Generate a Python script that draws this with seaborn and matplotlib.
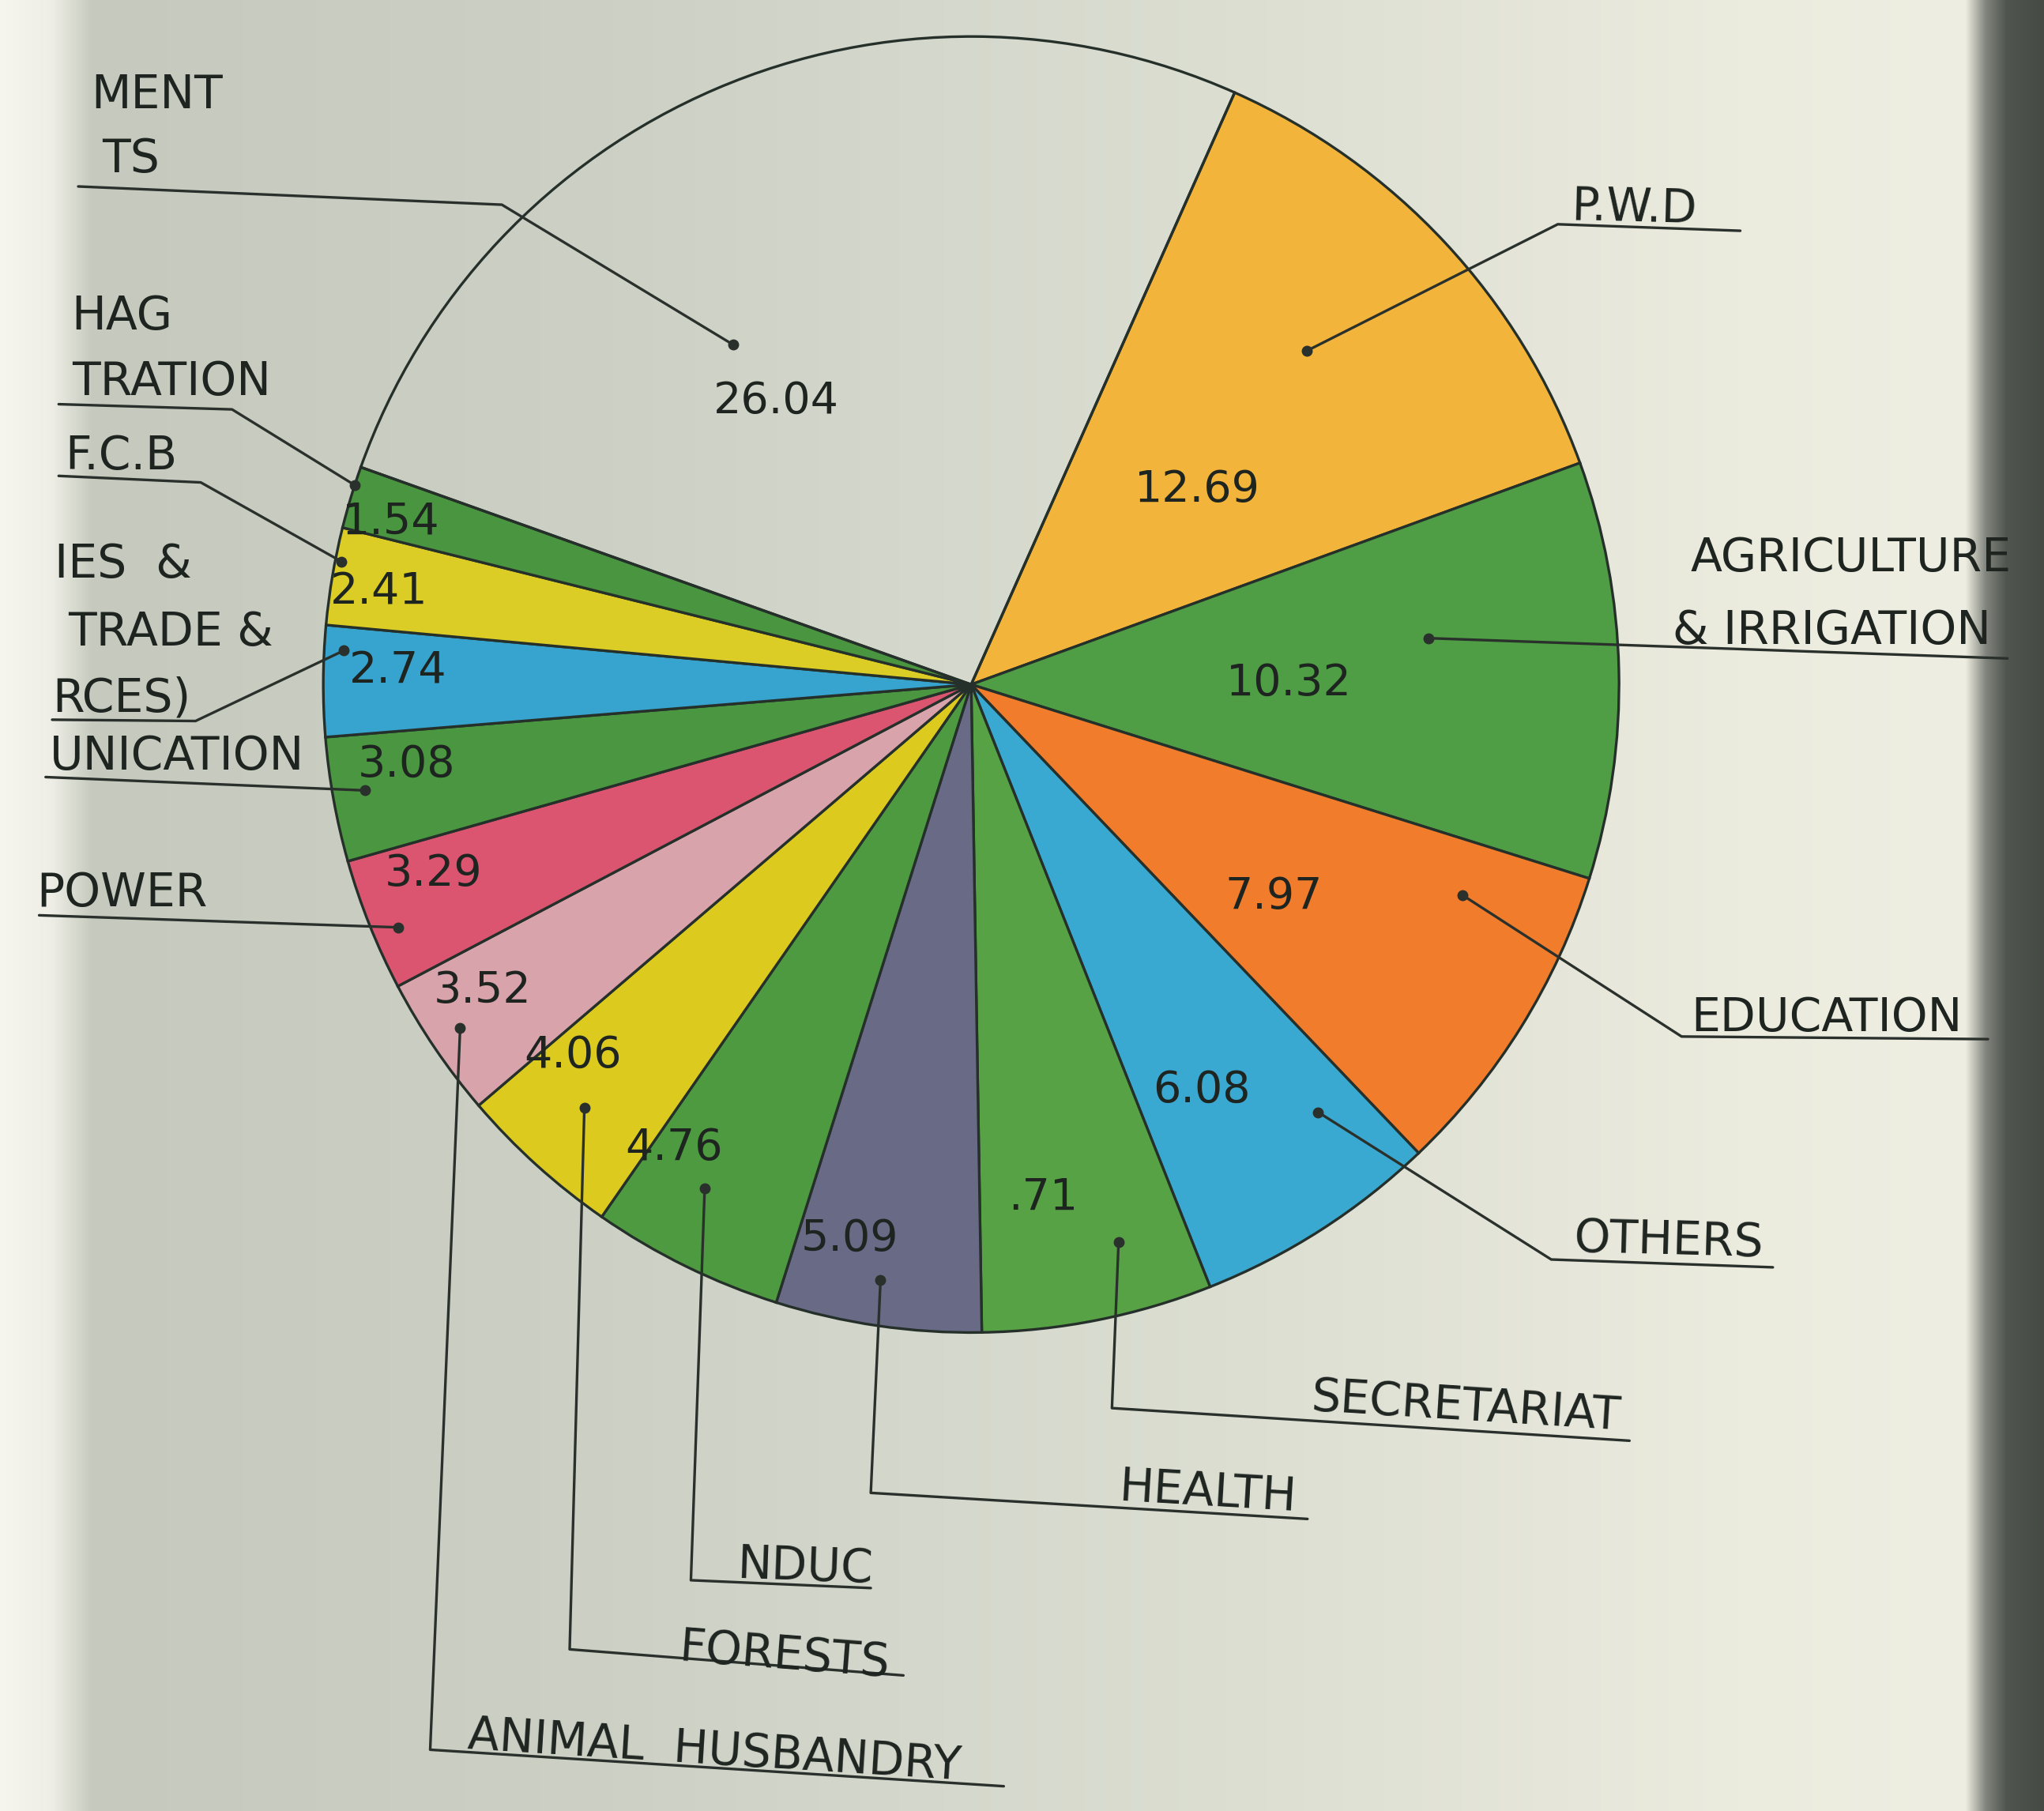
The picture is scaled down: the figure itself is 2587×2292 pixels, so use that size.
import numpy as np
import matplotlib
matplotlib.use("Agg")
import matplotlib.pyplot as plt
from matplotlib import font_manager
from matplotlib.colors import to_rgb
import seaborn as sns

# shares of expenditure, clockwise from the top (P.W.D first)
shares = [12.69, 10.32, 7.97, 6.08, 5.71, 5.09, 4.76, 4.06, 3.52, 3.29, 3.08, 2.74, 2.41, 1.54, 26.04]
share_text = ["12.69", "10.32", "7.97", "6.08", ".71", "5.09", "4.76", "4.06",
              "3.52", "3.29", "3.08", "2.74", "2.41", "1.54", "26.04"]
slice_colors = ["#f2b43a", "#4f9d45", "#f07c2c", "#3aa9d2", "#58a246", "#686a86", "#4e9a40",
                "#dccb1e", "#d9a3ab", "#db5570", "#4b9640", "#37a3cf", "#dccd26", "#4a9540",
                (0, 0, 0, 0)]

# label text as visible on the page (left side is cut by the page edge)
label_lines = [
    ["P.W.D"],
    ["AGRICULTURE", "& IRRIGATION"],
    ["EDUCATION"],
    ["OTHERS"],
    ["SECRETARIAT"],
    ["HEALTH"],
    ["NDUC"],
    ["FORESTS"],
    ["ANIMAL  HUSBANDRY"],
    ["POWER"],
    ["UNICATION"],
    ["IES  &", "TRADE &", "RCES)"],
    ["F.C.B"],
    ["HAG", "TRATION"],
    ["MENT", "TS"],
]

# ---- layout (reference pixels on a 1568-wide page, pie centre 745,525, radius 497)
CX, CY, PR = 745.0, 525.0, 497.0
W, H = 1568.0, 1389.0


def ref(xs, ys):
    return (xs - CX) / PR, (CY - ys) / PR


# where the value sits inside its wedge (fraction across wedge, fraction of radius)
value_pos = [(0.55, 0.46), (0.53, 0.49), (0.61, 0.57), (0.64, 0.72), (0.66, 0.80),
             (0.72, 0.875), (0.88, 0.85), (0.83, 0.84), (0.66, 0.89), (0.70, 0.88),
             (0.69, 0.88), (0.60, 0.885), (0.41, 0.925), (0.30, 0.93), (0.38, 0.53)]
# leader dot inside wedge
dot_pos = [(0.46, 0.73), (0.38, 0.71), (0.20, 0.825), (0.21, 0.85), (0.33, 0.89),
           (0.52, 0.93), (0.60, 0.88), (0.52, 0.885), (0.52, 0.95), (0.40, 0.96),
           (0.53, 0.95), (0.78, 0.97), (0.66, 0.99), (0.70, 1.0), (0.375, 0.64)]
# per label: text line anchors (x, baseline), leader path after the dot, rotation
label_pos = [
    ([(1205, 168)], [(1195, 172), (1335, 177)], -1.5),
    ([(1297, 438), (1283, 494)], [(1540, 505)], 0),
    ([(1297, 791)], [(1290, 795), (1525, 797)], 0),
    ([(1207, 960)], [(1190, 966), (1360, 972)], -1.5),
    ([(1005, 1082)], [(853, 1080), (1250, 1105)], -3.6),
    ([(858, 1151)], [(668, 1145), (1003, 1165)], -3.4),
    ([(565, 1210)], [(530, 1212), (668, 1218)], -2),
    ([(520, 1274)], [(437, 1265), (693, 1285)], -4.4),
    ([(358, 1341)], [(330, 1342), (770, 1370)], -3.6),
    ([(28, 695)], [(30, 702)], 0),
    ([(38, 590)], [(35, 596)], 0),
    ([(42, 443), (52, 495), (40, 546)], [(150, 553), (40, 552)], 0),
    ([(50, 360)], [(154, 370), (45, 365)], 0),
    ([(55, 253), (55, 303)], [(178, 314), (45, 310)], 0),
    ([(70, 83), (78, 132)], [(385, 157), (60, 143)], 0),
]

sns.set_theme(style="white")
installed = {f.name for f in font_manager.fontManager.ttflist}
if "Liberation Sans Narrow" in installed:
    plt.rcParams["font.family"] = ["Liberation Sans Narrow", "DejaVu Sans"]
    label_size, value_size = 48, 50
else:
    plt.rcParams["font.family"] = ["DejaVu Sans"]
    label_size, value_size = 42, 40

fig = plt.figure(figsize=(25.87, 22.92), dpi=100)
ax = fig.add_axes([0, 0, 1, 1])
x0, y1 = ref(0, 0)
x1, y0 = ref(W, H)

# paper background: grey left, cream right, page curl and dark binding edge
stops = [(0.0, "#f6f6ee"), (0.025, "#eeeee6"), (0.045, "#c6cabe"), (0.30, "#cdd1c5"),
         (0.60, "#dcded2"), (0.85, "#ebebde"), (0.962, "#efeee2"), (0.972, "#80847c"),
         (0.982, "#50554f"), (1.0, "#464a45")]
xs = np.linspace(0, 1, 1200)
grad = np.stack([np.interp(xs, [s[0] for s in stops], [to_rgb(s[1])[k] for s in stops])
                 for k in range(3)], axis=-1)[None, :, :]
ax.imshow(grad, extent=(x0, x1, y0, y1), aspect="auto", zorder=0)

wedges, _ = ax.pie(shares, colors=slice_colors, startangle=66, counterclock=False,
                   radius=1.0, center=(0, 0),
                   wedgeprops=dict(edgecolor="#26302a", linewidth=2.4))

ink = "#1e2420"


def wedge_point(w, t, r):
    ang = np.deg2rad(w.theta2 - t * (w.theta2 - w.theta1))
    return r * np.cos(ang), r * np.sin(ang)


for i, w in enumerate(wedges):
    vx, vy = wedge_point(w, *value_pos[i])
    ax.text(vx, vy, share_text[i], ha="center", va="center", fontsize=value_size,
            color=ink, zorder=4)

    dx, dy = wedge_point(w, *dot_pos[i])
    lines, path, rot = label_pos[i]
    px = [dx] + [ref(*p)[0] for p in path]
    py = [dy] + [ref(*p)[1] for p in path]
    ax.plot(px, py, color="#2a302b", lw=2.4, zorder=3, solid_capstyle="round")
    ax.plot(dx, dy, "o", color="#2a302b", ms=9, zorder=3)
    for txt, (tx, ty) in zip(label_lines[i], lines):
        lx, ly = ref(tx, ty)
        ax.text(lx, ly, txt, ha="left", va="baseline", fontsize=label_size, color=ink,
                rotation=rot, rotation_mode="anchor", zorder=4)

ax.set_xlim(x0, x1)
ax.set_ylim(y0, y1)
ax.set_aspect("auto")
ax.axis("off")

fig.savefig("out.png", dpi=100)
